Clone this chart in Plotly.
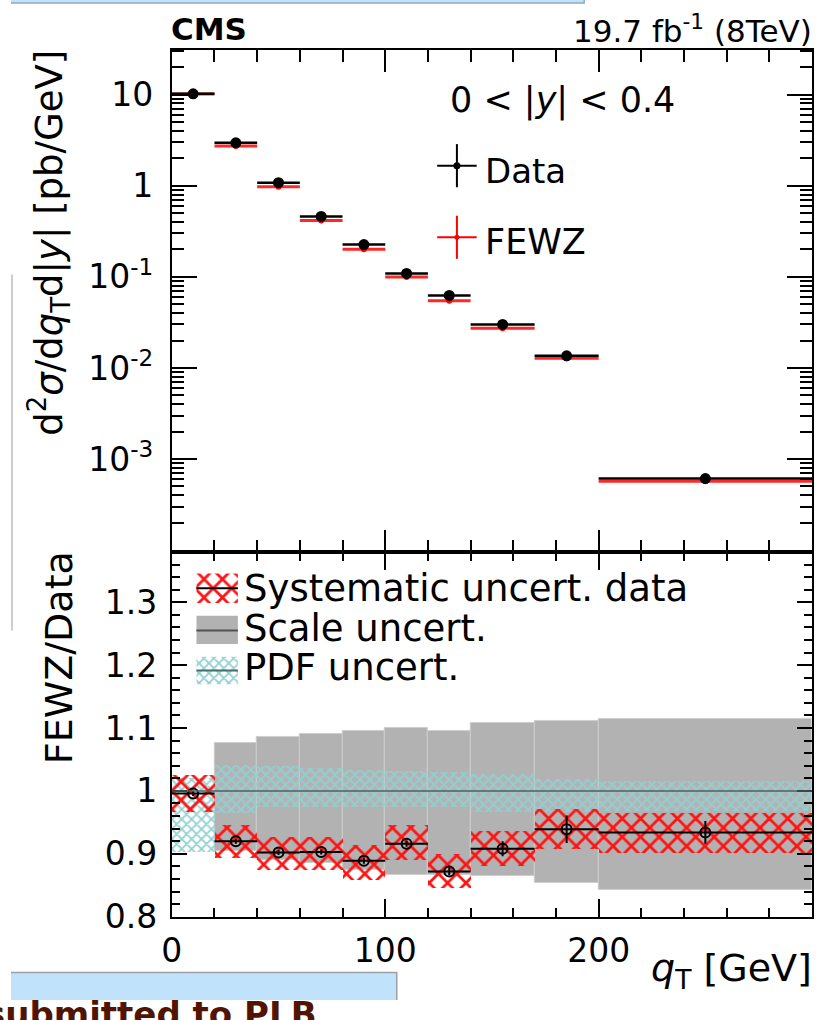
import plotly.graph_objects as go

W, H = 817, 1020
FONT = "DejaVu Sans"

# q_T binning [GeV]
bin_lo = [0, 20, 40, 60, 80, 100, 120, 140, 170, 200]
bin_hi = [20, 40, 60, 80, 100, 120, 140, 170, 200, 300]

# measured d2sigma/dqT d|y| for 0 < |y| < 0.4 [pb/GeV]
data_xsec = [10.2, 2.96, 1.08, 0.46, 0.226, 0.109, 0.0625, 0.0300, 0.0136, 0.00061]

# FEWZ / Data ratio with statistical error
ratio = [0.996, 0.920, 0.902, 0.903, 0.889, 0.916, 0.872, 0.908, 0.939, 0.934]
ratio_stat = [0.004, 0.004, 0.004, 0.004, 0.005, 0.005, 0.006, 0.012, 0.022, 0.018]

# systematic uncertainty of the data (band edges)
syst_lo = [0.967, 0.893, 0.874, 0.874, 0.858, 0.890, 0.845, 0.880, 0.907, 0.902]
syst_hi = [1.026, 0.946, 0.927, 0.927, 0.914, 0.946, 0.900, 0.936, 0.971, 0.965]

# scale uncertainty of the prediction (no band in the first bin)
scale_lo = [None, 0.905, 0.890, 0.885, 0.875, 0.867, 0.866, 0.864, 0.853, 0.842]
scale_hi = [None, 1.076, 1.086, 1.091, 1.095, 1.100, 1.095, 1.108, 1.111, 1.114]

# PDF uncertainty of the prediction
pdf_lo = [0.903, 0.965, 0.975, 0.975, 0.975, 0.975, 0.974, 0.966, 0.966, 0.968]
pdf_hi = [1.020, 1.041, 1.040, 1.036, 1.034, 1.032, 1.030, 1.027, 1.019, 1.016]

x_ticks = [0, 100, 200]
x_ticktext = ["0", "100", "200"]
y_top_ticks = [1e-3, 1e-2, 1e-1, 1, 10]
y_top_ticktext = ["10<sup>-3</sup>", "10<sup>-2</sup>", "10<sup>-1</sup>", "1", "10"]
y_bot_ticks = [0.8, 0.9, 1.0, 1.1, 1.2, 1.3]
y_bot_ticktext = ["0.8", "0.9", "1", "1.1", "1.2", "1.3"]

centers = [(a + b) / 2 for a, b in zip(bin_lo, bin_hi)]
widths = [b - a for a, b in zip(bin_lo, bin_hi)]
half = [w / 2 for w in widths]
fewz_xsec = [d * r for d, r in zip(data_xsec, ratio)]

RED = "rgb(255,20,20)"
CYAN = "rgb(146,208,210)"
GREY = "rgb(178,178,178)"
CLEAR = "rgba(0,0,0,0)"
RED_HATCH = dict(shape="x", size=13, solidity=0.38, fgcolor=RED, bgcolor=CLEAR,
                 fgopacity=1, fillmode="replace")
CYAN_HATCH = dict(shape="x", size=7, solidity=0.45, fgcolor=CYAN, bgcolor=CLEAR,
                  fgopacity=1, fillmode="replace")

# frame geometry (pixels)
X0, X1 = 163, 812
Y_TOP, Y_MID, Y_BOT = 51, 563, 935


def px(x):
    return x / W


def py(y):
    return 1 - y / H


fig = go.Figure()

# ---------------- upper panel ----------------
fig.add_trace(go.Scatter(
    x=centers, y=fewz_xsec, mode="markers", xaxis="x", yaxis="y",
    marker=dict(symbol="circle", size=6, color="rgb(255,0,0)"),
    error_x=dict(type="data", array=half, width=0, thickness=3, color="rgb(255,40,40)"),
))
fig.add_trace(go.Scatter(
    x=centers, y=data_xsec, mode="markers", xaxis="x", yaxis="y",
    marker=dict(symbol="circle", size=11, color="black"),
    error_x=dict(type="data", array=half, width=0, thickness=2.5, color="black"),
))

# ---------------- lower panel ----------------
sc_x = [c for c, l in zip(centers, scale_lo) if l is not None]
sc_w = [w for w, l in zip(widths, scale_lo) if l is not None]
sc_lo = [l for l in scale_lo if l is not None]
sc_hi = [h for h in scale_hi if h is not None]
fig.add_trace(go.Bar(
    x=sc_x, y=[h - l for h, l in zip(sc_hi, sc_lo)], base=sc_lo, width=sc_w,
    xaxis="x2", yaxis="y2",
    marker=dict(color=GREY, line=dict(color="rgb(206,206,206)", width=1)),
))
fig.add_trace(go.Bar(
    x=centers, y=[h - l for h, l in zip(pdf_hi, pdf_lo)], base=pdf_lo, width=widths,
    xaxis="x2", yaxis="y2",
    marker=dict(color=CYAN, line=dict(width=0, color=CLEAR), pattern=CYAN_HATCH),
))
fig.add_trace(go.Bar(
    x=centers, y=[h - l for h, l in zip(syst_hi, syst_lo)], base=syst_lo, width=widths,
    xaxis="x2", yaxis="y2",
    marker=dict(color=RED, line=dict(width=0, color=CLEAR), pattern=RED_HATCH),
))
fig.add_trace(go.Scatter(
    x=centers, y=ratio, mode="markers", xaxis="x2", yaxis="y2",
    marker=dict(symbol="circle-open", size=10, color="black", line=dict(width=2, color="black")),
    error_x=dict(type="data", array=half, width=0, thickness=2, color="black"),
    error_y=dict(type="data", array=ratio_stat, width=0, thickness=2, color="black"),
))

# ---------------- legend keys (pixel overlay) ----------------
def rect(x0, y0, x1, y1):
    return [x0, x1, x1, x0, x0], [y0, y0, y1, y1, y0]


def cross(cx, cy, hx, hy):
    return [cx - hx, cx + hx, None, cx, cx], [cy, cy, None, cy - hy, cy + hy]


for (cy, col, dot) in [(169, "black", 7), (242, "rgb(255,0,0)", 5)]:
    xs, ys = cross(452, cy, 20, 22)
    fig.add_trace(go.Scatter(x=xs, y=ys, mode="lines", xaxis="x3", yaxis="y3",
                             line=dict(color=col, width=2)))
    fig.add_trace(go.Scatter(x=[452], y=[cy], mode="markers", xaxis="x3", yaxis="y3",
                             marker=dict(color=col, size=dot)))

xs, ys = rect(188, 585, 230, 615)
fig.add_trace(go.Scatter(x=xs, y=ys, mode="lines", fill="toself", xaxis="x3", yaxis="y3",
                         line=dict(width=0, color=CLEAR), fillcolor=CLEAR,
                         fillpattern=RED_HATCH))
xs, ys = rect(188, 628, 230, 657)
fig.add_trace(go.Scatter(x=xs, y=ys, mode="lines", fill="toself", xaxis="x3", yaxis="y3",
                         line=dict(width=0, color=CLEAR), fillcolor=GREY))
xs, ys = rect(188, 670, 230, 698)
fig.add_trace(go.Scatter(x=xs, y=ys, mode="lines", fill="toself", xaxis="x3", yaxis="y3",
                         line=dict(width=0, color=CLEAR), fillcolor=CLEAR,
                         fillpattern=CYAN_HATCH))
for cy, col in [(600, "black"), (643, "rgb(80,80,80)"), (684, "rgb(70,110,110)")]:
    fig.add_trace(go.Scatter(x=[188, 230], y=[cy, cy], mode="lines", xaxis="x3", yaxis="y3",
                             line=dict(color=col, width=2)))

# ---------------- axes ----------------
axis_common = dict(showline=True, linewidth=2, linecolor="black", mirror="allticks",
                   ticks="inside", tickwidth=2, tickcolor="black", showgrid=False,
                   zeroline=False, fixedrange=True)
tickfont = dict(family=FONT, size=33, color="black")

log_minor = [k * 10.0 ** n for n in range(-5, 2) for k in range(2, 10)]

fig.update_layout(
    width=W, height=H, margin=dict(l=0, r=0, t=0, b=0),
    paper_bgcolor="white", plot_bgcolor=CLEAR,
    showlegend=False, barmode="overlay", bargap=0,
    font=dict(family=FONT, size=33, color="black"),
    xaxis=dict(domain=[px(X0), px(X1)], range=[0, 300], anchor="y",
               tickvals=x_ticks, showticklabels=False, ticklen=22,
               minor=dict(dtick=20, tick0=0, ticks="inside", ticklen=12,
                          tickwidth=2, tickcolor="black"),
               **axis_common),
    yaxis=dict(domain=[py(Y_MID), py(Y_TOP)], type="log", range=[-4.02, 1.49], anchor="x",
               tickvals=y_top_ticks, ticktext=y_top_ticktext, ticklen=25,
               tickfont=tickfont, ticklabelstandoff=10,
               minor=dict(tickmode="array", tickvals=log_minor, ticks="inside", ticklen=12,
                          tickwidth=2, tickcolor="black"),
               **axis_common),
    xaxis2=dict(domain=[px(X0), px(X1)], range=[0, 300], anchor="y2",
                tickvals=x_ticks, ticktext=x_ticktext, ticklen=18,
                tickfont=tickfont, ticklabelstandoff=4,
                minor=dict(dtick=20, tick0=0, ticks="inside", ticklen=9,
                           tickwidth=2, tickcolor="black"),
                **axis_common),
    yaxis2=dict(domain=[py(Y_BOT), py(Y_MID)], range=[0.8, 1.38], anchor="x2",
                tickvals=y_bot_ticks, ticktext=y_bot_ticktext, ticklen=15,
                tickfont=tickfont, ticklabelstandoff=6,
                minor=dict(dtick=0.02, tick0=0.8, ticks="inside", ticklen=8,
                           tickwidth=2, tickcolor="black"),
                **axis_common),
    xaxis3=dict(domain=[0, 1], range=[0, W], anchor="y3", visible=False, fixedrange=True),
    yaxis3=dict(domain=[0, 1], range=[H, 0], anchor="x3", visible=False, fixedrange=True),
)

# reference line at ratio 1
fig.add_shape(type="line", xref="x2", yref="y2", x0=0, x1=300, y0=1, y1=1,
              line=dict(color="rgb(80,95,95)", width=1.5))

# slide decorations: header strip and footer box
fig.add_shape(type="rect", xref="x3", yref="y3", x0=-5, x1=581, y0=-10, y1=3,
              fillcolor="rgb(196,226,247)", line=dict(color="rgb(140,170,195)", width=1.5))
fig.add_shape(type="rect", xref="x3", yref="y3", x0=-5, x1=391, y0=992, y1=1030,
              fillcolor="rgb(192,227,251)", line=dict(color="rgb(155,160,165)", width=1.5))
fig.add_shape(type="line", xref="x3", yref="y3", x0=1, x1=1, y0=280, y1=643,
              line=dict(color="rgb(205,205,205)", width=2))


def label(text, x, y, size, xanchor="left", angle=0, bold=False, color="black"):
    fig.add_annotation(text=text, x=px(x), y=py(y), xref="paper", yref="paper",
                       xanchor=xanchor, yanchor="middle", textangle=angle, showarrow=False,
                       font=dict(family=FONT, size=size, color=color,
                                 weight="bold" if bold else "normal"))


label("CMS", 160, 30, 31, bold=True)
label("19.7 fb<sup>-1</sup> (8TeV)", 814, 30, 31, xanchor="right")
label("0 < |<i>y</i>| < 0.4", 443, 103, 35)
label("Data", 478, 174, 34)
label("FEWZ", 478, 247, 35)
label("Systematic uncert. data", 234, 600, 37)
label("Scale uncert.", 234, 641, 37)
label("PDF uncert.", 234, 681, 37)
label("d<sup>2</sup><i>σ</i>/d<i>q</i><sub>T</sub>d|<i>y</i>| [pb/GeV]", 38, 247, 37,
      xanchor="center", angle=-90)
label("FEWZ/Data", 48, 671, 38, xanchor="center", angle=-90)
label("<i>q</i><sub>T</sub> [GeV]", 814, 990, 38, xanchor="right")
label("submitted to PLB", -28, 1034, 34, bold=True, color="rgb(80,20,0)")

fig.write_html("out.html")
